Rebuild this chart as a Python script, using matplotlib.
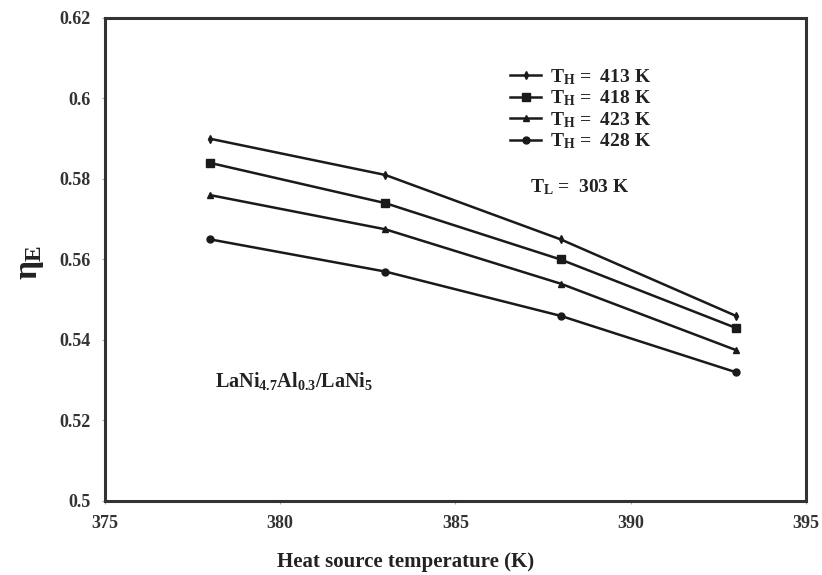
import matplotlib
matplotlib.use("Agg")
import matplotlib.pyplot as plt

plt.rcParams["font.family"] = ["Liberation Serif", "DejaVu Serif"]
plt.rcParams["font.weight"] = "bold"
plt.rcParams["mathtext.fontset"] = "custom"
plt.rcParams["mathtext.rm"] = "Liberation Serif:bold"
plt.rcParams["mathtext.it"] = "Liberation Serif:bold"
plt.rcParams["mathtext.bf"] = "Liberation Serif:bold"

# Heat source temperature (K)
source_temp = [378, 383, 388, 393]

# Efficiency for each heat sink temperature T_H
eta_413 = [0.590, 0.581, 0.565, 0.546]
eta_418 = [0.584, 0.574, 0.560, 0.543]
eta_423 = [0.576, 0.5675, 0.554, 0.5375]
eta_428 = [0.565, 0.557, 0.546, 0.532]

series_labels = ["413", "418", "423", "428"]
x_ticks = [375, 380, 385, 390, 395]
y_ticks = [0.5, 0.52, 0.54, 0.56, 0.58, 0.6, 0.62]
y_tick_labels = ["0.5", "0.52", "0.54", "0.56", "0.58", "0.6", "0.62"]

fig = plt.figure(figsize=(8.22, 5.75), dpi=100)
ax = fig.add_axes([0.1277, 0.1287, 0.8528, 0.84])

styles = [
    dict(marker="d", markersize=4),
    dict(marker="s", markersize=6),
    dict(marker="^", markersize=5),
    dict(marker="o", markersize=5),
]
for vals, lab, st in zip([eta_413, eta_418, eta_423, eta_428], series_labels, styles):
    ax.plot(source_temp, vals, color="#1a1a1a", linewidth=1.8,
            label=r"T$_{\mathrm{H}}$ =  " + lab + " K", **st)

ax.set_xlim(375, 395)
ax.set_ylim(0.5, 0.62)
ax.set_xticks(x_ticks)
ax.set_yticks(y_ticks)
ax.set_yticklabels(y_tick_labels)
ax.tick_params(axis="both", length=2, width=0.8, color="#aaaaaa",
               labelsize=13, labelcolor="#333333", pad=8)
for lbl in ax.get_xticklabels() + ax.get_yticklabels():
    lbl.set_fontweight("bold")
for sp in ax.spines.values():
    sp.set_linewidth(2.2)
    sp.set_color("#333333")

leg = ax.legend(loc="upper left", bbox_to_anchor=(0.567, 0.915), frameon=False,
                fontsize=14, handlelength=1.6, handletextpad=0.45,
                labelspacing=0.1, borderaxespad=0)
for t in leg.get_texts():
    t.set_color("#222222")

ax.text(0.607, 0.64, r"T$_{\mathrm{L}}$ =  303 K", transform=ax.transAxes,
        fontsize=14, color="#222222", fontweight="bold")
ax.text(0.157, 0.235,
        r"LaNi$_{\mathrm{4.7}}$Al$_{\mathrm{0.3}}$/LaNi$_{\mathrm{5}}$",
        transform=ax.transAxes, fontsize=14.5, color="#222222", fontweight="bold")

fig.text(406 / 822, 1 - 562 / 575, "Heat source temperature (K)",
         ha="center", va="center", fontsize=15, fontweight="bold", color="#222222")
fig.text(30 / 822, 1 - 262 / 575, r"$\eta_{\mathrm{E}}$", rotation=90,
         ha="center", va="center", fontsize=24, color="#222222")

fig.savefig("out.png", dpi=100)
